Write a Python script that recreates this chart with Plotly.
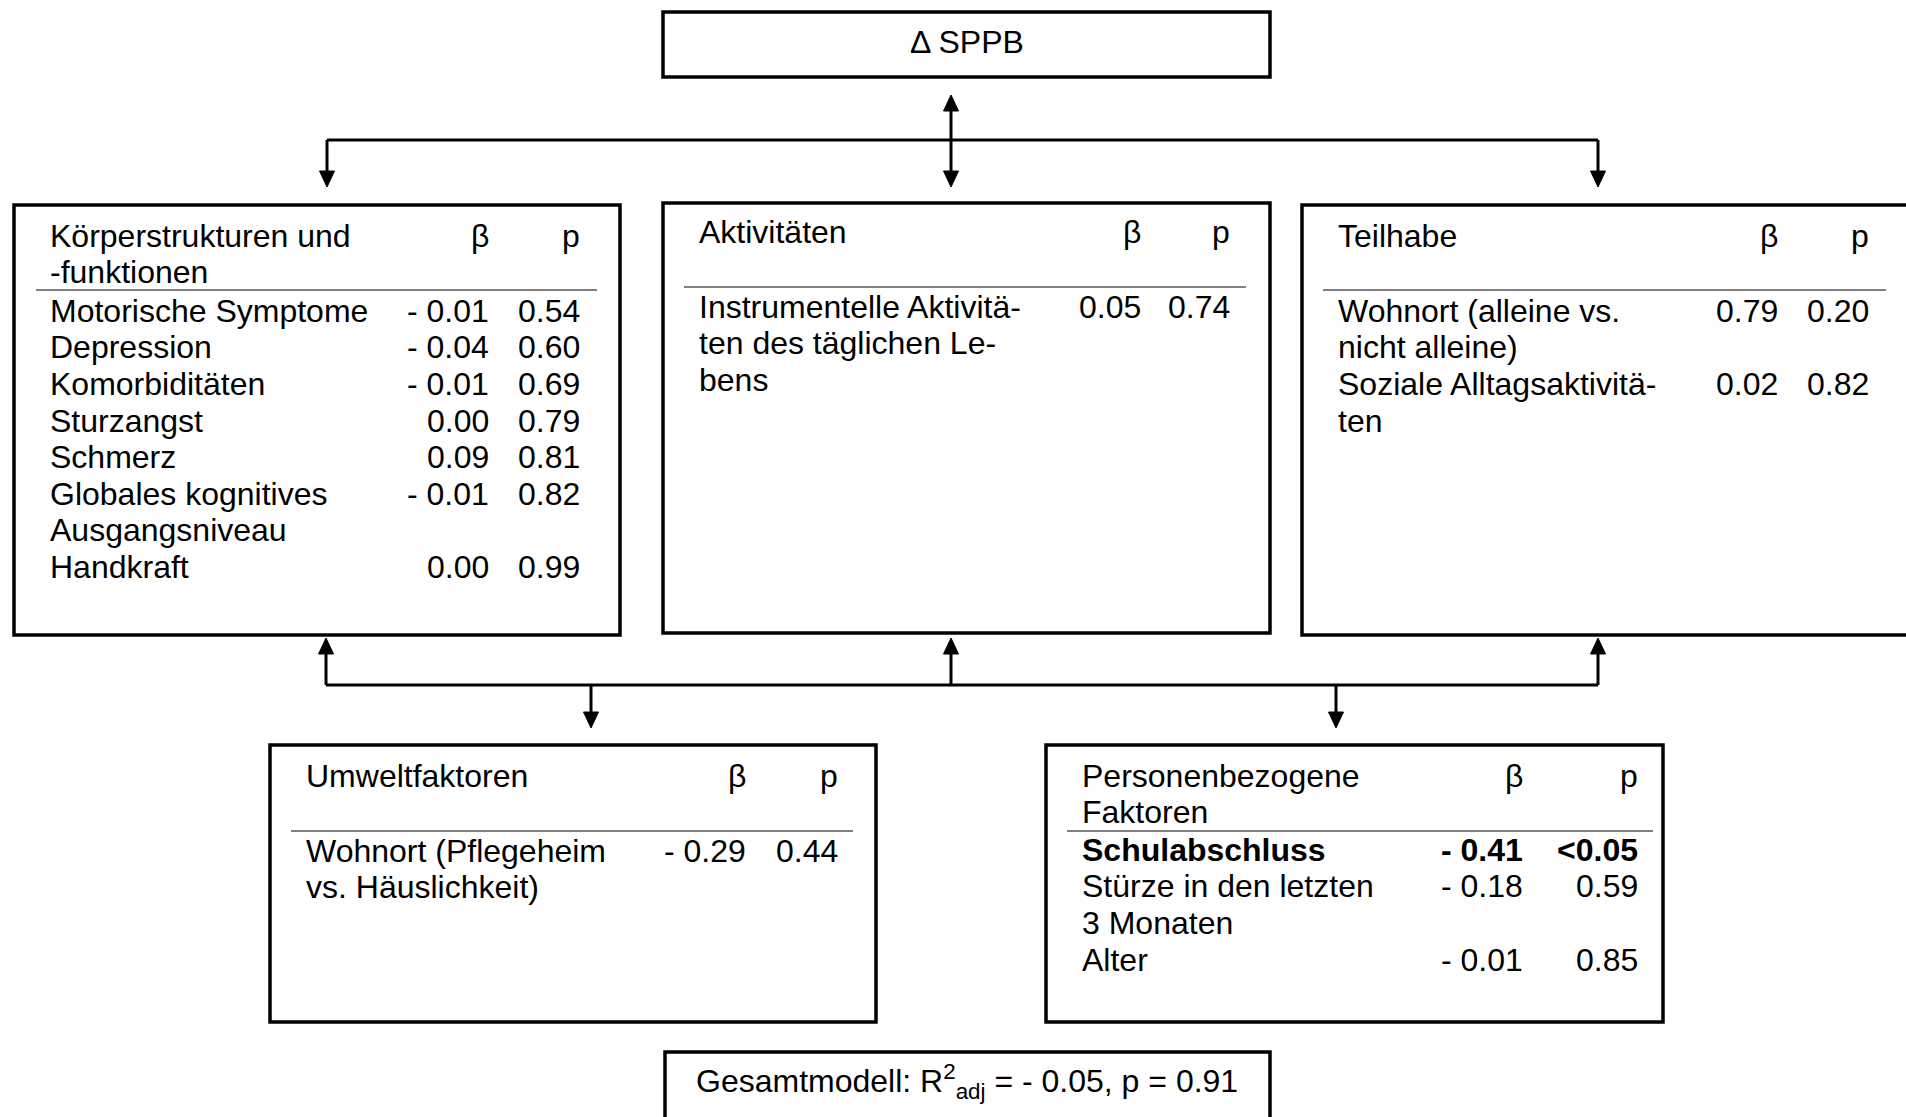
import plotly.graph_objects as go

FONT = "Liberation Sans, Arial, sans-serif"
FS = 32
STEP = 36.6

# ---------------- content ----------------
top_label = "Δ SPPB"
model_label = "Gesamtmodell: R<sup>2</sup><sub>adj</sub> = - 0.05, p = 0.91"
beta_header = "β"
p_header = "p"

koerper_title = ["Körperstrukturen und", "-funktionen"]
koerper_labels = [["Motorische Symptome"], ["Depression"], ["Komorbiditäten"],
                  ["Sturzangst"], ["Schmerz"], ["Globales kognitives", "Ausgangsniveau"],
                  ["Handkraft"]]
koerper_beta = ["- 0.01", "- 0.04", "- 0.01", "0.00", "0.09", "- 0.01", "0.00"]
koerper_p = ["0.54", "0.60", "0.69", "0.79", "0.81", "0.82", "0.99"]
koerper_bold = [False] * 7

aktiv_title = ["Aktivitäten"]
aktiv_labels = [["Instrumentelle Aktivitä-", "ten des täglichen Le-", "bens"]]
aktiv_beta = ["0.05"]
aktiv_p = ["0.74"]
aktiv_bold = [False]

teil_title = ["Teilhabe"]
teil_labels = [["Wohnort (alleine vs.", "nicht alleine)"], ["Soziale Alltagsaktivitä-", "ten"]]
teil_beta = ["0.79", "0.02"]
teil_p = ["0.20", "0.82"]
teil_bold = [False, False]

umwelt_title = ["Umweltfaktoren"]
umwelt_labels = [["Wohnort (Pflegeheim", "vs. Häuslichkeit)"]]
umwelt_beta = ["- 0.29"]
umwelt_p = ["0.44"]
umwelt_bold = [False]

person_title = ["Personenbezogene", "Faktoren"]
person_labels = [["Schulabschluss"], ["Stürze in den letzten", "3 Monaten"], ["Alter"]]
person_beta = ["- 0.41", "- 0.18", "- 0.01"]
person_p = ["<0.05", "0.59", "0.85"]
person_bold = [True, False, False]

# ---------------- layout geometry (pixels) ----------------
boxes = [
    dict(title=koerper_title, labels=koerper_labels, beta=koerper_beta, p=koerper_p, bold=koerper_bold,
         x0=14, x1=620, y0=205, y1=635, sx0=36, sx1=597, tx=49, br=490, pr=581,
         tb=247, sy=290, rb=322),
    dict(title=aktiv_title, labels=aktiv_labels, beta=aktiv_beta, p=aktiv_p, bold=aktiv_bold,
         x0=663, x1=1270, y0=203, y1=633, sx0=684, sx1=1246, tx=698, br=1142, pr=1231,
         tb=243, sy=287, rb=318),
    dict(title=teil_title, labels=teil_labels, beta=teil_beta, p=teil_p, bold=teil_bold,
         x0=1302, x1=1912, y0=205, y1=635, sx0=1323, sx1=1886, tx=1337, br=1779, pr=1870,
         tb=247, sy=290, rb=322),
    dict(title=umwelt_title, labels=umwelt_labels, beta=umwelt_beta, p=umwelt_p, bold=umwelt_bold,
         x0=270, x1=876, y0=745, y1=1022, sx0=291, sx1=853, tx=305, br=747, pr=839,
         tb=787, sy=831, rb=862),
    dict(title=person_title, labels=person_labels, beta=person_beta, p=person_p, bold=person_bold,
         x0=1046, x1=1663, y0=745, y1=1022, sx0=1067, sx1=1653, tx=1081, br=1524, pr=1639,
         tb=787, sy=831, rb=861),
]

W, H = 1906, 1117
BORDER = 3.5
LW = 3
AH_W, AH_L = 7.5, 16

shapes = []
annotations = []

def text(x, baseline, s, anchor="left", bold=False, dy=0.0):
    if bold:
        s = "<b>" + s + "</b>"
    annotations.append(dict(x=x, y=baseline - 0.35 * FS + dy, xref="x", yref="y", text=s,
                            showarrow=False, xanchor=anchor, yanchor="middle",
                            font=dict(family=FONT, size=FS, color="black"),
                            borderpad=0))

def rect(x0, y0, x1, y1):
    shapes.append(dict(type="rect", x0=x0, x1=x1, y0=y0, y1=y1, xref="x", yref="y",
                       line=dict(color="black", width=BORDER), fillcolor="rgba(0,0,0,0)"))

def line(x0, y0, x1, y1, w=LW, color="black"):
    shapes.append(dict(type="line", x0=x0, x1=x1, y0=y0, y1=y1, xref="x", yref="y",
                       line=dict(color=color, width=w)))

def arrowhead(x, tip, direction):
    # direction +1: pointing down (tip below), -1: pointing up
    base = tip - direction * AH_L
    path = f"M {x} {tip} L {x - AH_W} {base} L {x + AH_W} {base} Z"
    shapes.append(dict(type="path", path=path, xref="x", yref="y",
                       fillcolor="black", line=dict(color="black", width=1)))
    return base

# boxes with tables
for b in boxes:
    rect(b["x0"], b["y0"], b["x1"], b["y1"])
    line(b["sx0"], b["sy"], b["sx1"], b["sy"], w=1.5, color="#555555")
    for i, t in enumerate(b["title"]):
        text(b["tx"], b["tb"] + i * STEP, t)
    text(b["br"], b["tb"], beta_header, anchor="right")
    text(b["pr"], b["tb"], p_header, anchor="right")
    k = 0
    for lab, be, pv, bo in zip(b["labels"], b["beta"], b["p"], b["bold"]):
        base = b["rb"] + k * STEP
        for j, l in enumerate(lab):
            text(b["tx"], base + j * STEP, l, bold=bo)
        text(b["br"], base, be, anchor="right", bold=bo)
        text(b["pr"], base, pv, anchor="right", bold=bo)
        k += len(lab)

# top box
rect(663, 12, 1270, 77)
text(967, 53, top_label, anchor="center")

# model box
rect(665, 1052, 1270, 1130)
text(967, 1102, model_label, anchor="center", dy=-9)

# upper connectors
UY = 140
line(327, UY, 1598, UY)
for xx in (327, 1598):
    b = arrowhead(xx, 187, +1)
    line(xx, UY, xx, b)
b1 = arrowhead(951, 95, -1)
b2 = arrowhead(951, 187, +1)
line(951, b1, 951, b2)

# lower connectors
LY = 685
line(326, LY, 1598, LY)
for xx in (326, 951, 1598):
    b = arrowhead(xx, 638, -1)
    line(xx, LY, xx, b)
for xx in (591, 1336):
    b = arrowhead(xx, 728, +1)
    line(xx, LY, xx, b)

fig = go.Figure()
fig.add_trace(go.Scatter(x=[0, W], y=[0, H], mode="markers", marker=dict(opacity=0),
                         hoverinfo="skip", showlegend=False))
fig.update_layout(
    width=W, height=H, margin=dict(l=0, r=0, t=0, b=0),
    paper_bgcolor="white", plot_bgcolor="white",
    xaxis=dict(range=[0, W], visible=False, fixedrange=True),
    yaxis=dict(range=[H, 0], visible=False, fixedrange=True),
    shapes=shapes, annotations=annotations, showlegend=False,
)
fig.write_html("out.html", config=dict(displayModeBar=False),
               post_script="document.body.style.margin='0';document.body.style.overflow='hidden';")
